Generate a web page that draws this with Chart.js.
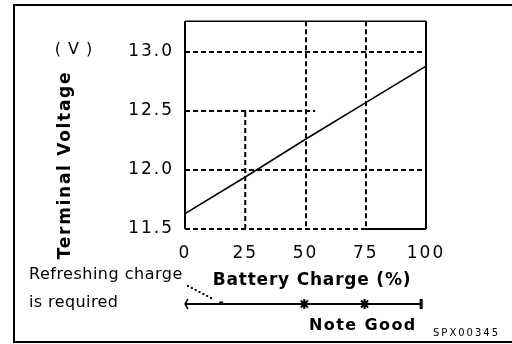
<!DOCTYPE html>
<html>
<head>
<meta charset="utf-8">
<script src="https://cdn.jsdelivr.net/npm/chart.js@4.4.1/dist/chart.umd.min.js"></script>
<style>
  html, body { margin: 0; padding: 0; background: #fff; }
  canvas { display: block; }
</style>
</head>
<body>
<canvas id="c" width="512" height="344"></canvas>
<script>
// Battery charge (%) on the x axis, terminal voltage (V) on the y axis
const chargePercent = [0, 25, 50, 75, 100];
const terminalVoltage = [11.63, 11.94, 12.26, 12.57, 12.88];

const xTickValues = [0, 25, 50, 75, 100];
const yTickValues = [11.5, 12.0, 12.5, 13.0];
const yTickLabels = ['11.5', '12.0', '12.5', '13.0'];

// Charge-state bar under the axis: range and marker positions (in % charge)
const stateBarRange = [0, 98];
const stateDot = [15];
const stateStars = [49.5, 74.5];

const FONT = '"DejaVu Sans", sans-serif';

function text(ctx, str, x, y, font, spacing, align, rot) {
  ctx.save();
  ctx.font = font;
  ctx.fillStyle = '#000';
  ctx.letterSpacing = spacing + 'px';
  ctx.textAlign = align || 'left';
  ctx.textBaseline = 'middle';
  ctx.translate(x, y);
  if (rot) ctx.rotate(rot);
  ctx.fillText(str, 0, 0);
  ctx.restore();
}

function seg(ctx, x1, y1, x2, y2, w, dash) {
  ctx.save();
  ctx.strokeStyle = '#000';
  ctx.lineWidth = w;
  ctx.setLineDash(dash || []);
  ctx.beginPath();
  ctx.moveTo(x1, y1);
  ctx.lineTo(x2, y2);
  ctx.stroke();
  ctx.restore();
}

const framePlugin = {
  id: 'frame',
  beforeDraw(chart) {
    chart.ctx.letterSpacing = '2px';
  },
  beforeDatasetsDraw(chart) {
    const { ctx, chartArea: a, scales: { x, y } } = chart;
    const dash = [5, 3];
    // partial grid lines
    seg(ctx, x.getPixelForValue(0), y.getPixelForValue(12.5), x.getPixelForValue(54), y.getPixelForValue(12.5), 2, dash);
    seg(ctx, x.getPixelForValue(25), y.getPixelForValue(11.5), x.getPixelForValue(25), y.getPixelForValue(12.5), 2, dash);
    // plot frame
    seg(ctx, a.left, a.top, a.left, a.bottom, 2);
    seg(ctx, a.right, a.top, a.right, a.bottom, 2);
    seg(ctx, a.left, a.top, a.right, a.top, 1.5);
    seg(ctx, x.getPixelForValue(75), a.bottom, a.right, a.bottom, 2);
  },
  afterDraw(chart) {
    const { ctx, scales: { x } } = chart;
    const W = chart.width;

    // outer box (open on the right)
    seg(ctx, 13, 5, W, 5, 2);
    seg(ctx, 14, 4, 14, 343, 2);
    seg(ctx, 13, 342, W, 342, 2);

    // axis titles
    text(ctx, 'Terminal Voltage', 66, 165, 'bold 17px ' + FONT, 1.7, 'center', -Math.PI / 2);
    text(ctx, '( V )', 74, 50, '16px ' + FONT, 1, 'center');
    text(ctx, 'Battery Charge (%)', 312, 281, 'bold 17px ' + FONT, 0.8, 'center');

    // charge-state bar
    const yb = 304;
    const x0 = x.getPixelForValue(stateBarRange[0]);
    const x1 = x.getPixelForValue(stateBarRange[1]);
    seg(ctx, x0, yb, x1, yb, 2);
    ctx.save();
    ctx.strokeStyle = '#000';
    ctx.lineWidth = 1.5;
    ctx.beginPath();
    ctx.moveTo(x0 + 3, yb - 5);
    ctx.lineTo(x0, yb);
    ctx.lineTo(x0 + 3, yb + 5);
    ctx.stroke();
    ctx.fillStyle = '#000';
    ctx.fillRect(x1 - 1.5, yb - 5, 3, 10);
    stateDot.forEach(v => {
      ctx.fillRect(x.getPixelForValue(v) - 2, yb - 2.5, 4, 3);
    });
    stateStars.forEach(v => {
      const px = x.getPixelForValue(v);
      ctx.lineWidth = 2;
      for (let k = 0; k < 4; k++) {
        const ang = k * Math.PI / 4;
        ctx.beginPath();
        ctx.moveTo(px - 5 * Math.cos(ang), yb - 5 * Math.sin(ang));
        ctx.lineTo(px + 5 * Math.cos(ang), yb + 5 * Math.sin(ang));
        ctx.stroke();
      }
      ctx.fillRect(px - 2.5, yb - 2.5, 5, 5);
    });
    // dotted leader from the note to the bar
    for (let t = 0; t <= 1.0001; t += 1 / 6) {
      ctx.fillRect(188 + 23 * t - 1, 286 + 12 * t - 1, 2, 2);
    }
    ctx.restore();

    // notes
    text(ctx, 'Refreshing charge', 29, 275, '16px ' + FONT, 0.5, 'left');
    text(ctx, 'is required', 29, 303, '16px ' + FONT, 0.4, 'left');
    text(ctx, 'Note Good', 309, 326, 'bold 16px ' + FONT, 1.4, 'left');
    text(ctx, 'SPX00345', 433, 333, '10px ' + FONT, 2, 'left');
  }
};

new Chart(document.getElementById('c'), {
  type: 'line',
  data: {
    datasets: [{
      data: chargePercent.map((c, i) => ({ x: c, y: terminalVoltage[i] })),
      borderColor: '#000',
      borderWidth: 1.6,
      pointRadius: 0,
      tension: 0,
      fill: false
    }]
  },
  options: {
    responsive: false,
    animation: false,
    devicePixelRatio: 1,
    layout: { padding: { left: 0, top: 15, right: 86, bottom: 0 } },
    plugins: { legend: { display: false }, tooltip: { enabled: false } },
    scales: {
      x: {
        type: 'linear',
        min: 0,
        max: 100,
        afterBuildTicks: s => { s.ticks = xTickValues.map(v => ({ value: v })); },
        afterFit: s => { s.height = 115; },
        ticks: {
          color: '#000',
          font: { family: FONT, size: 17 },
          padding: 14,
          maxRotation: 0,
          callback: v => String(v)
        },
        grid: {
          drawTicks: false,
          lineWidth: 2,
          color: c => (c.tick && c.tick.value === 25) ? 'rgba(0,0,0,0)' : '#000'
        },
        border: { display: false, dash: [5, 3] }
      },
      y: {
        type: 'linear',
        min: 11.5,
        max: 13.26,
        afterBuildTicks: s => { s.ticks = yTickValues.map(v => ({ value: v })); },
        afterFit: s => { s.width = 185; },
        ticks: {
          color: '#000',
          font: { family: FONT, size: 17 },
          padding: 11,
          callback: v => yTickLabels[yTickValues.indexOf(v)]
        },
        grid: {
          drawTicks: false,
          lineWidth: 2,
          color: c => (c.tick && c.tick.value === 12.5) ? 'rgba(0,0,0,0)' : '#000'
        },
        border: { display: false, dash: [5, 3] }
      }
    }
  },
  plugins: [framePlugin]
});
</script>
</body>
</html>
